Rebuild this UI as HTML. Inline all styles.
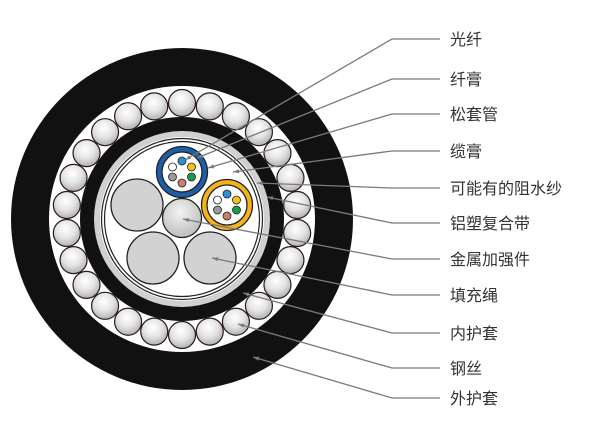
<!DOCTYPE html>
<html><head><meta charset="utf-8"><style>
html,body{margin:0;padding:0;background:#fff;}
svg{display:block}
text{font-family:"Liberation Sans","Noto Sans CJK SC",sans-serif;font-size:16px;fill:#333;}
</style></head><body>
<svg id="s" width="600" height="439" viewBox="0 0 600 439" xmlns="http://www.w3.org/2000/svg">
<defs>
<radialGradient id="ball" cx="0.45" cy="0.35" r="0.7">
<stop offset="0" stop-color="#ffffff"/><stop offset="0.5" stop-color="#e4e4e4"/><stop offset="1" stop-color="#a8a8a8"/>
</radialGradient>
<radialGradient id="cen" cx="0.45" cy="0.35" r="0.75">
<stop offset="0" stop-color="#f4f4f4"/><stop offset="1" stop-color="#b4b4b4"/>
</radialGradient>
</defs>
<circle cx="182" cy="219" r="171" fill="#111"/>
<circle cx="182" cy="219" r="133" fill="#fff"/>
<g id="wires"></g>
<circle cx="182" cy="219" r="102" fill="#111"/>
<circle cx="182" cy="219" r="88" fill="#d0d0d0"/>
<circle cx="182" cy="219" r="82" fill="#fff"/>
<circle cx="182" cy="219" r="80.5" fill="none" stroke="#222" stroke-width="1.2"/>
<circle cx="182" cy="219" r="77.5" fill="none" stroke="#222" stroke-width="1.2"/>
<g stroke="#222" stroke-width="1.3">
<circle cx="137" cy="205" r="26" fill="#d2d2d2"/>
<circle cx="153" cy="258" r="26" fill="#d2d2d2"/>
<circle cx="210" cy="258" r="26" fill="#d2d2d2"/>
<circle cx="182" cy="218" r="19.5" fill="url(#cen)"/>
<circle cx="182" cy="172" r="25.5" fill="#1c5ea8"/>
<circle cx="182" cy="172" r="20" fill="#fff"/>
<circle cx="227" cy="205" r="25.5" fill="#f3b21e"/>
<circle cx="227" cy="205" r="20" fill="#fff"/>
</g>
<g stroke="#222" stroke-width="0.8">
<circle cx="182" cy="161" r="4" fill="#2d8fd6"/><circle cx="191.5" cy="167" r="4" fill="#f3c21e"/><circle cx="191.5" cy="177" r="4" fill="#16a04a"/><circle cx="182" cy="183" r="4" fill="#c9826a"/><circle cx="172.5" cy="177" r="4" fill="#9a9a9a"/><circle cx="172.5" cy="167" r="4" fill="#fff"/>
<circle cx="227" cy="194" r="4" fill="#2d8fd6"/><circle cx="236.5" cy="200" r="4" fill="#f3c21e"/><circle cx="236.5" cy="210" r="4" fill="#16a04a"/><circle cx="227" cy="216" r="4" fill="#c9826a"/><circle cx="217.5" cy="210" r="4" fill="#9a9a9a"/><circle cx="217.5" cy="200" r="4" fill="#fff"/>
</g>
<g id="leaders" stroke="#7a7a7a" stroke-width="1.3" fill="none"></g>
<g>
<text x="450" y="45">光纤</text>
<text x="450" y="85">纤膏</text>
<text x="450" y="120">松套管</text>
<text x="450" y="157">缆膏</text>
<text x="450" y="194">可能有的阻水纱</text>
<text x="450" y="229">铝塑复合带</text>
<text x="450" y="265">金属加强件</text>
<text x="450" y="301">填充绳</text>
<text x="450" y="339">内护套</text>
<text x="450" y="374">钢丝</text>
<text x="450" y="404">外护套</text>
</g>
</svg>
<script>
var NS="http://www.w3.org/2000/svg";
var w=document.getElementById("wires");
var n=26;
for(var i=0;i<n;i++){var a=2*Math.PI*i/n-Math.PI/2;var c=document.createElementNS(NS,"circle");
c.setAttribute("cx",182+116*Math.cos(a));c.setAttribute("cy",219+116*Math.sin(a));c.setAttribute("r",13.5);
c.setAttribute("fill","url(#ball)");c.setAttribute("stroke","#2a1a1a");c.setAttribute("stroke-width","1.2");w.appendChild(c);}
var L=[[39,185,160],[79,197,158],[114,208,168],[151,233,172],[188,257,183],[223,267,197],[259,183,219],[295,212,258],[333,243,293],[368,238,324],[398,253,357]];
var g=document.getElementById("leaders");
L.forEach(function(l){var p=document.createElementNS(NS,"polyline");
p.setAttribute("points",l[1]+","+l[2]+" 392,"+l[0]+" 440,"+l[0]);g.appendChild(p);
var dx=392-l[1],dy=l[0]-l[2],d=Math.sqrt(dx*dx+dy*dy);dx/=d;dy/=d;
var t=document.createElementNS(NS,"polygon");
var bx=l[1]+dx*6,by=l[2]+dy*6;
t.setAttribute("points",l[1]+","+l[2]+" "+(bx-dy*2)+","+(by+dx*2)+" "+(bx+dy*2)+","+(by-dx*2));
t.setAttribute("fill","#7a7a7a");t.setAttribute("stroke","none");g.appendChild(t);});
</script>
</body></html>
